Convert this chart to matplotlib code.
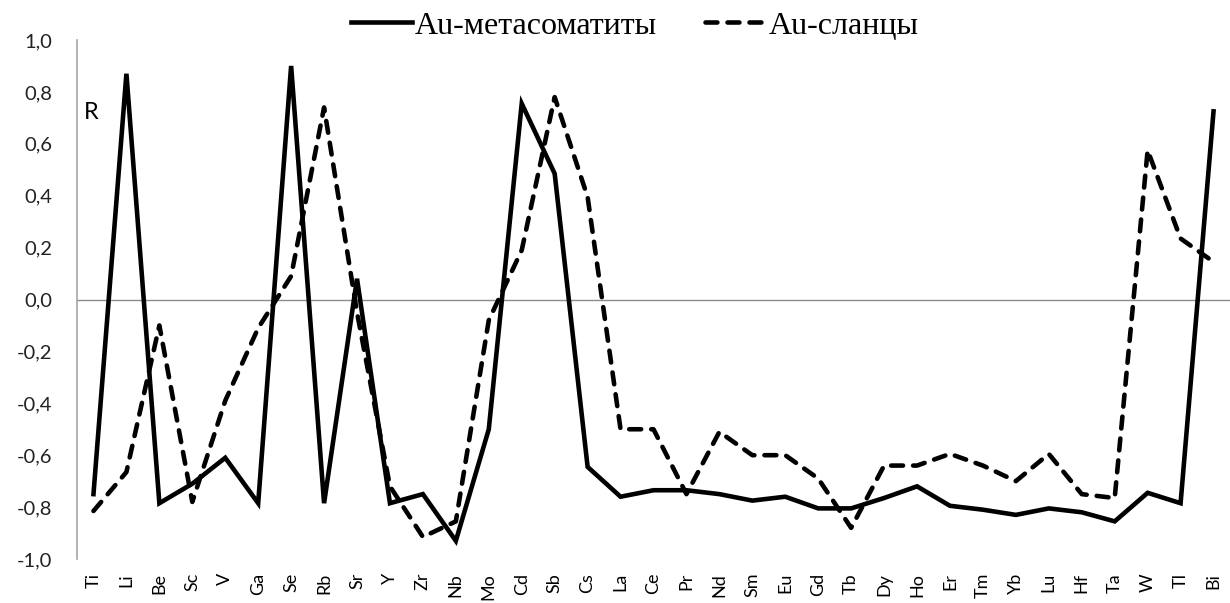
import matplotlib
matplotlib.use("Agg")
import matplotlib.pyplot as plt
from matplotlib.ticker import FuncFormatter, MultipleLocator

elements = ["Ti", "Li", "Be", "Sc", "V", "Ga", "Se", "Rb", "Sr", "Y", "Zr", "Nb", "Mo",
            "Cd", "Sb", "Cs", "La", "Ce", "Pr", "Nd", "Sm", "Eu", "Gd", "Tb", "Dy", "Ho",
            "Er", "Tm", "Yb", "Lu", "Hf", "Ta", "W", "Tl", "Bi"]

# Au-метасоматиты (сплошная)
metasom = [-0.75, 0.87, -0.785, -0.71, -0.61, -0.785, 0.90, -0.785, 0.08, -0.785, -0.75, -0.93, -0.50,
           0.755, 0.485, -0.645, -0.76, -0.735, -0.735, -0.75, -0.775, -0.76, -0.805, -0.805, -0.765, -0.72,
           -0.795, -0.81, -0.83, -0.805, -0.82, -0.855, -0.745, -0.785, 0.725]

# Au-сланцы (пунктир)
slancy = [-0.815, -0.665, -0.10, -0.78, -0.39, -0.11, 0.09, 0.74, -0.05, -0.72, -0.915, -0.855, -0.08,
          0.19, 0.78, 0.395, -0.50, -0.50, -0.75, -0.51, -0.60, -0.60, -0.69, -0.88, -0.64, -0.64,
          -0.595, -0.64, -0.70, -0.595, -0.75, -0.765, 0.575, 0.235, 0.145]

plt.rcParams['font.family'] = ['Lato', 'DejaVu Sans']

fig = plt.figure(figsize=(12.3, 6.03), dpi=100)
ax = fig.add_axes([77 / 1230, 44 / 603, 1153 / 1230, 519 / 603])

x = list(range(len(elements)))
ax.plot(x, metasom, color='black', lw=3.3, solid_joinstyle='miter', label='Au-метасоматиты')
ax.plot(x, slancy, color='black', lw=3.3, linestyle=(0, (2.6, 2.2)), dash_capstyle='round',
        label='Au-сланцы')

ax.axhline(0, color='#8c8c8c', lw=1.0, zorder=0)

ax.set_xlim(-0.5, len(elements) - 0.5)
ax.set_ylim(-1.0, 1.0)
ax.yaxis.set_major_locator(MultipleLocator(0.2))
ax.yaxis.set_major_formatter(FuncFormatter(lambda v, p: f"{v:.1f}".replace('.', ',').replace('-0,0', '0,0')))

ax.set_xticks(x)
ax.set_xticklabels(elements, rotation=90, fontsize=13)
ax.tick_params(axis='x', length=0, pad=10)
ax.tick_params(axis='y', length=0, pad=18, labelsize=14.5)
for lab in ax.get_yticklabels():
    lab.set_color('#222222')

for s in ['top', 'right', 'bottom']:
    ax.spines[s].set_visible(False)
ax.spines['left'].set_color('#a6a6a6')
ax.spines['left'].set_linewidth(1.2)

ax.text(-0.3, 0.72, 'R', fontsize=17, va='center', ha='left')

leg = fig.legend(loc='center', bbox_to_anchor=(635 / 1230, 1 - 26 / 603), ncol=2, frameon=False,
                 prop={'family': 'Liberation Serif', 'size': 23}, handlelength=1.9,
                 handletextpad=0.1, columnspacing=1.5)

fig.savefig('out.png', dpi=100)
